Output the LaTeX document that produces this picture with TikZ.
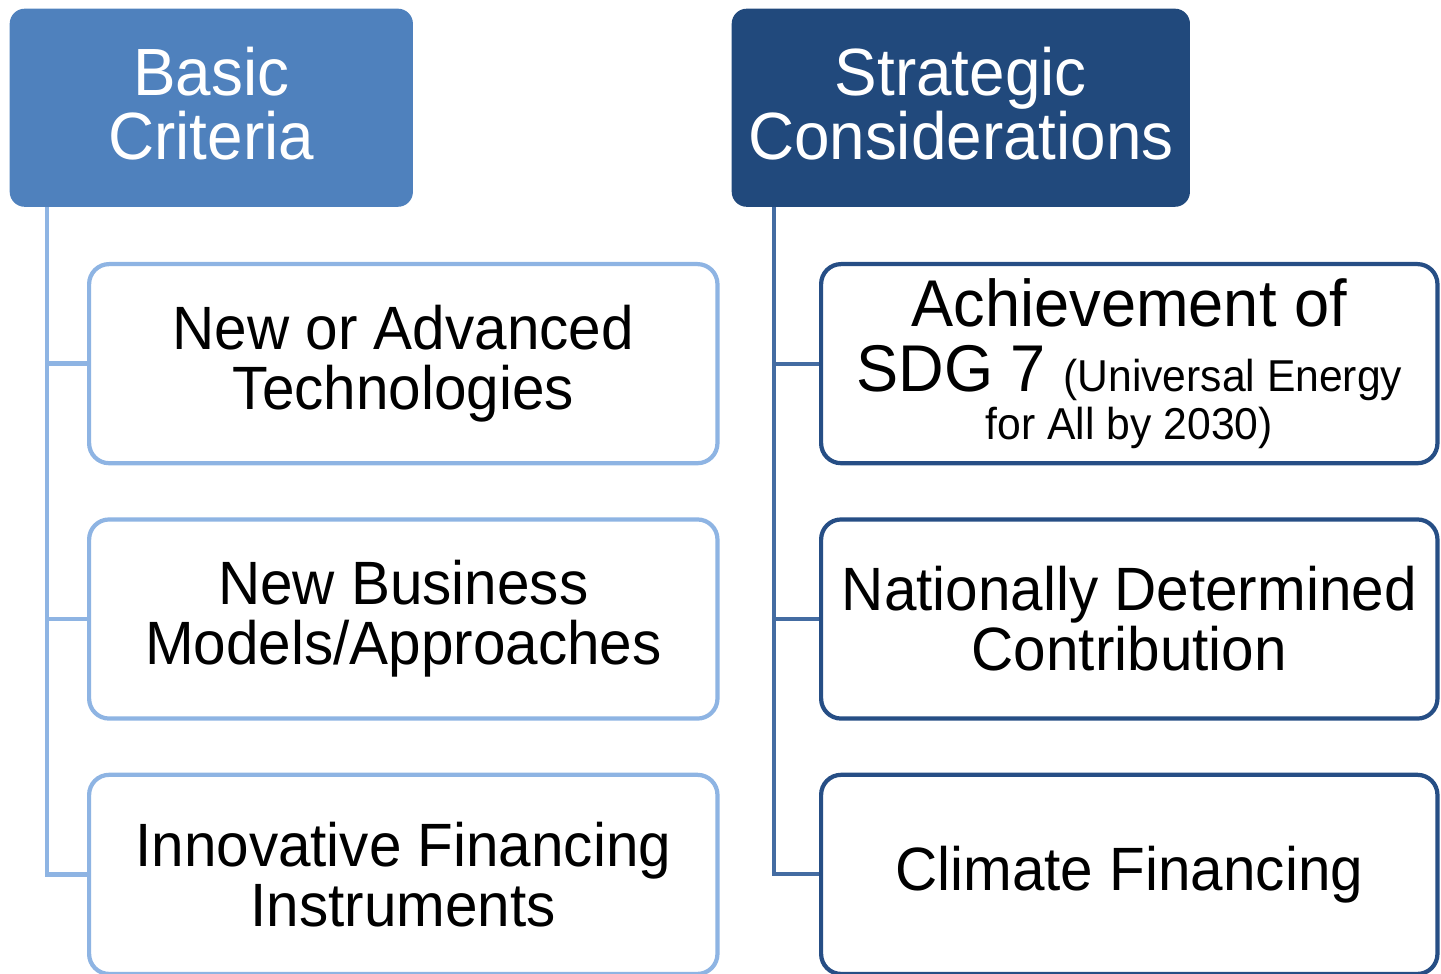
\documentclass[tikz,border=0pt]{standalone}
\usepackage{fontspec}
\setmainfont[FakeStretch=0.955]{Liberation Sans}
\usetikzlibrary{positioning}
\definecolor{basicblue}{RGB}{79,129,189}
\definecolor{stratblue}{RGB}{33,73,124}
\definecolor{paleline}{RGB}{142,180,227}
\definecolor{deepline}{RGB}{38,78,133}
\definecolor{treeline}{RGB}{68,108,162}
\tikzset{
  head/.style={rounded corners=0.15cm,align=center,text=white,inner sep=0pt,
    minimum height=1.98cm,font=\fontsize{19}{18.2}\selectfont},
  item/.style={draw,line width=1.2pt,rounded corners=0.2cm,fill=white,align=center,
    inner sep=0pt,minimum height=1.99cm,font=\fontsize{17.4}{17.1}\selectfont},
  basicitem/.style={item,draw=paleline,minimum width=6.28cm},
  stratitem/.style={item,draw=deepline,minimum width=6.16cm},
  basictree/.style={draw=paleline,line width=1.3pt},
  strattree/.style={draw=treeline,line width=1.1pt},
}
\newcommand{\sdgsmall}{\fontsize{12.7}{13}\selectfont}
\begin{document}
\begin{tikzpicture}[x=0.01cm,y=-0.01cm,node distance=0.52cm]
  \useasboundingbox (0,0) rectangle (1441,974);
  % the two column heads
  \node[head,fill=basicblue,minimum width=4.03cm,anchor=north west,text depth=0.08cm] (bc) at (9,8) {Basic\\Criteria};
  \node[head,fill=stratblue,minimum width=4.58cm,anchor=north west,text depth=0.08cm] (sc) at (731,8) {Strategic\\Considerations};
  % left column
  \node[basicitem,anchor=north west] (tech) at (87,262) {New or Advanced\\Technologies};
  \node[basicitem,below=of tech] (biz) {New Business\\Models/Approaches};
  \node[basicitem,below=of biz] (fin) {Innovative Financing\\Instruments};
  % right column
  \node[stratitem,anchor=north west,font=\fontsize{18.8}{18.2}\selectfont] (sdg) at (819,262)
    {Achievement of\\[0.5pt]SDG 7 {\sdgsmall(Universal Energy}\\[-4.5pt]
     {\sdgsmall for All by 2030)}};
  \node[stratitem,below=of sdg] (ndc) {Nationally Determined\\Contribution};
  \node[stratitem,below=of ndc] (clim) {Climate Financing};
  % tree lines
  \coordinate (lt) at (47,207);
  \coordinate (rt) at (774,207);
  \foreach \n in {tech,biz,fin} \draw[basictree] (lt) |- (\n.west);
  \foreach \n in {sdg,ndc,clim} \draw[strattree] (rt) |- (\n.west);
\end{tikzpicture}
\end{document}
